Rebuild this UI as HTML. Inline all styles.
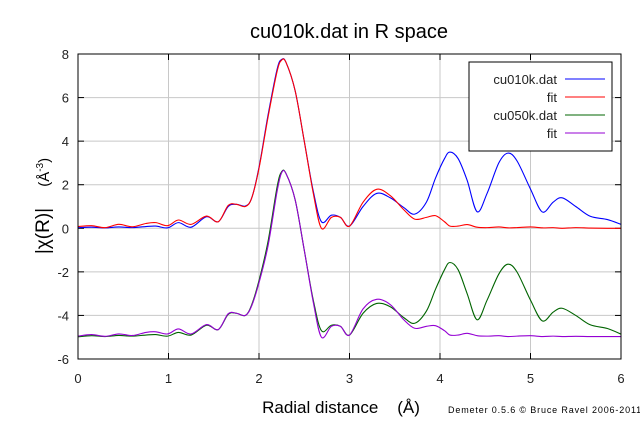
<!DOCTYPE html>
<html><head><meta charset="utf-8"><style>
html,body{margin:0;padding:0;background:#fff;}
svg{display:block;font-family:"Liberation Sans",sans-serif;}
</style></head><body>
<svg id="chart" width="640" height="421" viewBox="0 0 640 421">
<text x="349" y="38" font-size="20" text-anchor="middle">cu010k.dat in R space</text>
<g id="grid"></g>
<g id="ticks"></g>
<g id="series"></g>
<rect x="78" y="54" width="543" height="305" fill="none" stroke="#000" stroke-width="1"/>
<text x="341" y="413" font-size="17" text-anchor="middle">Radial distance &#160;&#160;&#160;(Å)</text>
<text x="448" y="413" font-size="9" style="letter-spacing:0.85px">Demeter 0.5.6 © Bruce Ravel 2006-2011</text>
<text x="0" y="0" transform="translate(49,206) rotate(-90)" font-size="19" text-anchor="middle">|χ(R)| &#160;&#160;&#160;<tspan font-size="15">(Å</tspan><tspan font-size="10" dy="-6">-3</tspan><tspan font-size="15" dy="6">)</tspan></text>
<g>
<rect x="469" y="62" width="143" height="89" fill="#fff" stroke="#000"/>
<g id="legend-items"></g>
</g>
</svg>
<script>
const rValues=[0,0.15,0.3,0.45,0.6,0.75,0.86,0.99,1.11,1.25,1.42,1.55,1.66,1.75,1.85,1.92,2.0,2.1,2.2,2.25,2.3,2.4,2.5,2.6,2.69,2.8,2.9,3.0,3.15,3.3,3.45,3.6,3.72,3.85,3.95,4.05,4.11,4.2,4.3,4.41,4.52,4.65,4.75,4.85,5.0,5.13,5.25,5.35,5.5,5.66,5.85,6.0];
const cu010kData=[0.03,0.05,0.02,0.06,0.03,0.08,0.1,0.02,0.26,0.05,0.53,0.3,1.0,1.1,1.02,1.4,2.8,5.2,7.3,7.75,7.6,6.3,4.0,1.7,0.3,0.6,0.5,0.1,1.0,1.6,1.4,0.95,0.65,1.2,2.3,3.2,3.5,3.2,2.2,0.76,1.6,3.0,3.45,3.1,1.8,0.75,1.2,1.4,1.0,0.55,0.4,0.18];
const cu010kFit=[0.08,0.12,0.03,0.18,0.07,0.22,0.26,0.12,0.38,0.18,0.56,0.3,1.05,1.1,1.0,1.4,2.75,5.1,7.2,7.72,7.6,6.3,4.0,1.6,0.0,0.5,0.5,0.1,1.2,1.79,1.5,0.85,0.42,0.5,0.58,0.3,0.1,0.1,0.17,0.05,0.03,0.06,0.02,0.03,0.06,0.02,0.03,0.0,0.03,0.01,0.0,0.0];
const cu050kData=[-4.98,-4.93,-4.97,-4.92,-4.95,-4.9,-4.88,-4.95,-4.78,-4.9,-4.45,-4.65,-3.95,-3.9,-4.0,-3.5,-2.4,-0.6,1.9,2.6,2.5,1.3,-1.0,-3.3,-4.7,-4.45,-4.5,-4.9,-3.9,-3.45,-3.6,-4.1,-4.36,-3.8,-2.8,-1.9,-1.57,-1.9,-3.0,-4.2,-3.3,-2.1,-1.65,-2.0,-3.3,-4.25,-3.85,-3.67,-4.0,-4.43,-4.6,-4.86];
const cu050kFit=[-4.95,-4.88,-4.96,-4.85,-4.92,-4.78,-4.75,-4.85,-4.62,-4.85,-4.42,-4.65,-3.92,-3.9,-4.0,-3.55,-2.5,-0.8,1.7,2.55,2.5,1.3,-1.0,-3.4,-5.0,-4.5,-4.5,-4.9,-3.7,-3.26,-3.5,-4.2,-4.59,-4.5,-4.47,-4.7,-4.9,-4.9,-4.82,-4.93,-4.95,-4.93,-4.97,-4.95,-4.93,-4.97,-4.95,-4.97,-4.96,-4.97,-4.97,-4.97];
const xTicks=[0,1,2,3,4,5,6];
const yTicks=[-6,-4,-2,0,2,4,6,8];
const legendLabels=["cu010k.dat","fit","cu050k.dat","fit"];

const NS="http://www.w3.org/2000/svg";
const X0=78,X1=621,Y0=359,Y1=54;
function xs(v){return X0+(v-0)/(6-0)*(X1-X0);}
function ys(v){return Y0-(v+6)/(14)*(Y0-Y1);}
function mk(tag,attrs,parent){const e=document.createElementNS(NS,tag);for(const k in attrs)e.setAttribute(k,attrs[k]);parent.appendChild(e);return e;}
const grid=document.getElementById('grid'),ticks=document.getElementById('ticks'),ser=document.getElementById('series');
xTicks.forEach(t=>{
  const x=xs(t);
  if(t>0&&t<6){const g=mk('line',{x1:x,x2:x,y1:Y1,y2:Y0,stroke:'#c8c8c8'},grid);
  
  }
  mk('line',{x1:x,x2:x,y1:Y0,y2:Y0-6,stroke:'#000'},ticks);
  mk('line',{x1:x,x2:x,y1:Y1,y2:Y1+6,stroke:'#000'},ticks);
  const tl=mk('text',{x:x,y:383,'font-size':13,'text-anchor':'middle',fill:'#222'},ticks);
  tl.textContent=t;
  
  
});
yTicks.forEach(t=>{
  const y=ys(t);
  if(t>-6&&t<8){const g=mk('line',{x1:X0,x2:X1,y1:y,y2:y,stroke:'#c8c8c8'},grid);
  
  }
  mk('line',{x1:X0,x2:X0+6,y1:y,y2:y,stroke:'#000'},ticks);
  mk('line',{x1:X1,x2:X1-6,y1:y,y2:y,stroke:'#000'},ticks);
  const tl=mk('text',{x:69,y:y+5,'font-size':13,'text-anchor':'end',fill:'#222'},ticks);
  tl.textContent=t;
  
  
});
function pathFor(vals){
  const p=rValues.map((r,i)=>[xs(r),ys(vals[i])]);
  let d='M'+p[0][0].toFixed(2)+','+p[0][1].toFixed(2);
  for(let i=0;i<p.length-1;i++){
    const a=p[Math.max(0,i-1)],b=p[i],c=p[i+1],e=p[Math.min(p.length-1,i+2)];
    const c1=[b[0]+(c[0]-a[0])/6,b[1]+(c[1]-a[1])/6],c2=[c[0]-(e[0]-b[0])/6,c[1]-(e[1]-b[1])/6];
    d+=' C'+c1.map(v=>v.toFixed(2))+' '+c2.map(v=>v.toFixed(2))+' '+c[0].toFixed(2)+','+c[1].toFixed(2);
  }
  return d;
}
const series=[[cu050kData,'#006400','cu050k-data-line'],[cu050kFit,'#9400d3','cu050k-fit-line'],[cu010kData,'#0000ff','cu010k-data-line'],[cu010kFit,'#ff0000','cu010k-fit-line']];
series.forEach(s=>{
  const el=mk('path',{d:pathFor(s[0]),fill:'none',stroke:s[1],'stroke-width':1.1},ser);
  
  
});
const legCols=['#0000ff','#ff0000','#006400','#9400d3'];
const li=document.getElementById('legend-items');
legendLabels.forEach((l,i)=>{
  const y=79+i*18;
  const t=mk('text',{x:557,y:y+5,'font-size':13,'text-anchor':'end',fill:'#222'},li);
  t.textContent=l;
  
  
  const ln=mk('line',{x1:565,x2:605,y1:y,y2:y,stroke:legCols[i],'stroke-width':1.1},li);
  
  
});
</script>
</body></html>
